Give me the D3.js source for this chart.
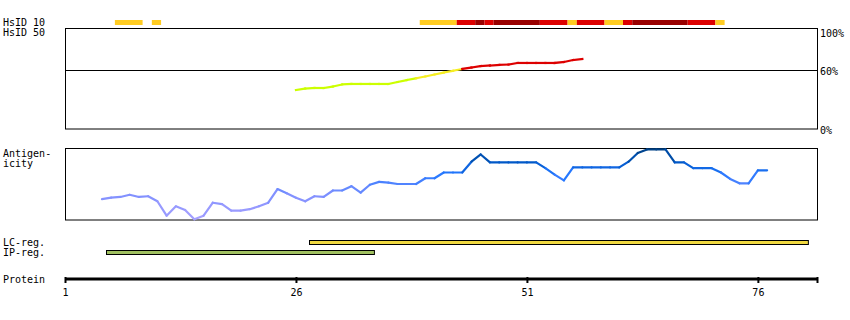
<!DOCTYPE html>
<html>
<head>
<meta charset="utf-8">
<script src="https://cdn.jsdelivr.net/npm/d3@7"></script>
<style>
  body { margin: 0; background: #fff; }
  text { font-family: "DejaVu Sans Mono", monospace; font-size: 10px; fill: #000; }
</style>
</head>
<body>
<script>
// protein length and axis ticks
const proteinLength = 81;
const proteinTicks = [1, 26, 51, 76];

// HsID 10 cells: residue ranges and identity level (1 low, 2 mid, 3 high)
const hsid10Start = [6, 10, 39, 43, 45, 46, 47, 52, 55, 56, 59, 61, 62, 68, 71];
const hsid10End   = [8, 10, 42, 44, 45, 46, 51, 54, 55, 58, 60, 61, 67, 70, 71];
const hsid10Level = [1, 1, 1, 2, 3, 2, 3, 2, 1, 2, 1, 2, 3, 2, 1];

// HsID 50 curve (% identity), residues 26..57
const hsid50Start = 26;
const hsid50Values = [39.7, 41.2, 41.7, 41.7, 43.2, 45.3, 45.8, 45.8, 45.8, 45.8,
  45.8, 47.8, 49.8, 51.6, 53.4, 55.4, 57.4, 59.2, 61.0, 62.4,
  63.8, 64.3, 64.8, 65.2, 66.7, 66.7, 66.7, 66.7, 66.7, 67.6,
  69.5, 70.5];
const hsidTicks = [100, 60, 0];

// antigenicity profile, residues 5..77
const antigenStart = 5;
const antigenValues = [0.29, 0.31, 0.32, 0.35, 0.32, 0.33, 0.26, 0.06, 0.19, 0.14,
  0.01, 0.06, 0.24, 0.22, 0.13, 0.13, 0.15, 0.19, 0.24, 0.43,
  0.37, 0.31, 0.26, 0.33, 0.32, 0.41, 0.41, 0.47, 0.38, 0.49,
  0.53, 0.52, 0.50, 0.50, 0.50, 0.58, 0.58, 0.66, 0.66, 0.66,
  0.81, 0.91, 0.80, 0.80, 0.80, 0.80, 0.80, 0.80, 0.72, 0.63,
  0.55, 0.73, 0.73, 0.73, 0.73, 0.73, 0.73, 0.81, 0.93, 0.98,
  0.98, 0.98, 0.80, 0.80, 0.72, 0.72, 0.72, 0.66, 0.57, 0.51,
  0.51, 0.69, 0.69];

// regions
const regionNames = ["LC-reg.", "IP-reg."];
const regionStart = [27, 5];
const regionEnd = [80, 33];

const width = 850, height = 320;
const cellOffset = 0.4;

const svg = d3.select("body").append("svg")
  .attr("width", width)
  .attr("height", height);

const x = d3.scaleLinear()
  .domain([1, proteinLength + 1 + cellOffset])
  .range([65, 817]);

const levelColor = d3.scaleOrdinal()
  .domain([1, 2, 3])
  .range(["#ffcc22", "#dd0000", "#990000"]);

// left labels
const labels = [
  ["HsID 10", 26], ["HsID 50", 36], ["Antigen-", 157], ["icity", 167],
  ["LC-reg.", 246], ["IP-reg.", 256], ["Protein", 283]
];
svg.selectAll(".lbl").data(labels).enter().append("text")
  .attr("class", "lbl")
  .attr("x", 3)
  .attr("y", (d) => d[1])
  .text((d) => d[0]);

// HsID 10 strip
svg.append("g").selectAll("rect")
  .data(hsid10Start.map((s, i) => ({ s: s, e: hsid10End[i], l: hsid10Level[i] })))
  .enter().append("rect")
  .attr("x", (d) => x(d.s + cellOffset))
  .attr("width", (d) => x(d.e + 1 + cellOffset) - x(d.s + cellOffset))
  .attr("y", 20)
  .attr("height", 5)
  .attr("fill", (d) => levelColor(d.l));

// HsID 50 panel
const yHs = d3.scaleLinear().domain([0, 60, 100]).range([129, 70, 28]);
svg.append("rect")
  .attr("x", 65.5).attr("y", 28.5)
  .attr("width", 752).attr("height", 100.5)
  .attr("fill", "none").attr("stroke", "#000");
svg.append("line")
  .attr("x1", 65).attr("x2", 817)
  .attr("y1", yHs(60) + 0.5).attr("y2", yHs(60) + 0.5)
  .attr("stroke", "#000");
svg.selectAll(".pct").data(hsidTicks).enter().append("text")
  .attr("class", "pct")
  .attr("x", 820)
  .attr("y", (d) => d === 100 ? yHs(d) + 9 : d === 60 ? yHs(d) + 5 : yHs(d) + 5)
  .text((d) => d + "%");

const hsColor = (v) => v >= 60 ? "#dd0000" : v >= 50 ? "#f6ee22" : "#ccff00";
const hsPts = hsid50Values.map((v, i) => [hsid50Start + i, v]);
svg.append("g").selectAll("line")
  .data(d3.pairs(hsPts))
  .enter().append("line")
  .attr("x1", (d) => x(d[0][0])).attr("y1", (d) => yHs(d[0][1]))
  .attr("x2", (d) => x(d[1][0])).attr("y2", (d) => yHs(d[1][1]))
  .attr("stroke", (d) => hsColor(d[0][1]))
  .attr("stroke-width", 2.2)
  .attr("stroke-linecap", "square");

// antigenicity panel
const yAg = d3.scaleLinear().domain([0, 1]).range([220, 148]);
const agColor = d3.scaleLinear()
  .domain([0, 0.35, 0.65, 0.8, 1])
  .range(["#aaa2ff", "#8090ff", "#2277ff", "#0058c8", "#004080"]);
svg.append("rect")
  .attr("x", 65.5).attr("y", 148.5)
  .attr("width", 752).attr("height", 71.5)
  .attr("fill", "none").attr("stroke", "#000");
const agPts = antigenValues.map((v, i) => [antigenStart + i, v]);
svg.append("g").selectAll("line")
  .data(d3.pairs(agPts))
  .enter().append("line")
  .attr("x1", (d) => x(d[0][0])).attr("y1", (d) => yAg(d[0][1]))
  .attr("x2", (d) => x(d[1][0])).attr("y2", (d) => yAg(d[1][1]))
  .attr("stroke", (d) => agColor((d[0][1] + d[1][1]) / 2))
  .attr("stroke-width", 2.2)
  .attr("stroke-linecap", "round");

// region bars
const regionColor = ["#f0d840", "#a0c060"];
const regionY = [240.5, 250.5];
svg.append("g").selectAll("rect")
  .data(regionNames.map((n, i) => i))
  .enter().append("rect")
  .attr("x", (i) => Math.round(x(regionStart[i] + cellOffset)) + 0.5)
  .attr("width", (i) => x(regionEnd[i] + 1 + cellOffset) - x(regionStart[i] + cellOffset))
  .attr("y", (i) => regionY[i])
  .attr("height", 4)
  .attr("fill", (i) => regionColor[i])
  .attr("stroke", "#000");

// protein axis
const axis = svg.append("g")
  .attr("transform", "translate(0,279)")
  .call(d3.axisBottom(x)
    .tickValues(proteinTicks.concat([proteinLength + 1 + cellOffset]))
    .tickSize(4)
    .tickPadding(6)
    .tickFormat((d) => proteinTicks.includes(d) ? d : ""));
axis.select(".domain")
  .attr("d", `M${x.range()[0]},0H${x.range()[1]}`)
  .attr("stroke", "#000")
  .attr("stroke-width", 3);
axis.selectAll(".tick line")
  .attr("stroke", "#000")
  .attr("stroke-width", 2)
  .attr("y1", -2);
axis.selectAll(".tick text")
  .style("font-family", "DejaVu Sans Mono")
  .style("font-size", "10px")
  .attr("fill", "#000");
</script>
</body>
</html>
